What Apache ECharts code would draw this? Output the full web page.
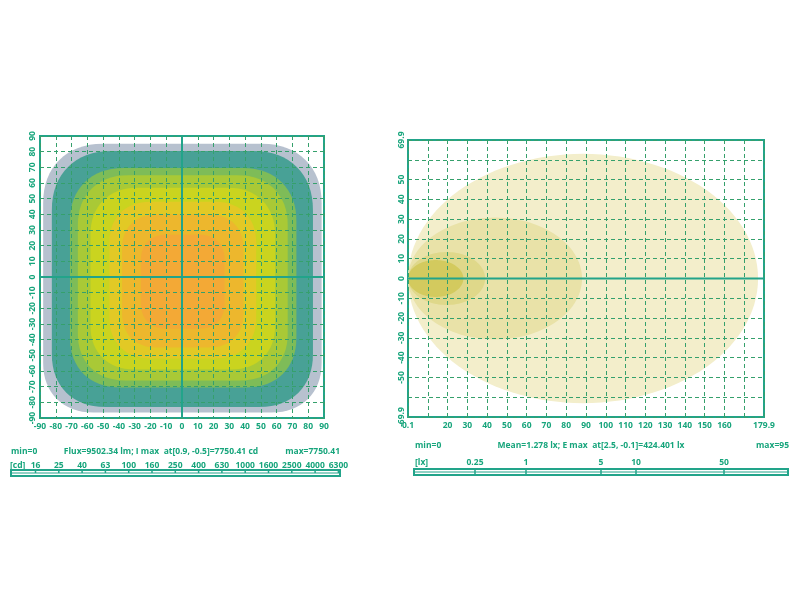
<!DOCTYPE html>
<html><head><meta charset="utf-8">
<script src="https://cdn.jsdelivr.net/npm/echarts@6/dist/echarts.min.js"></script>
<style>html,body{margin:0;padding:0;background:#fff}#c{width:800px;height:600px}</style>
</head><body><div id="c"></div>
<script>
// ---------- DATA ----------
// Left: luminous intensity iso-contours (degrees), outermost -> innermost
const contourLeft   = [-88,  -82.5, -71,  -66,  -58,  -46,  -38,  -26];
const contourRight  = [88.5,  83,    72.5, 67,   59,   47,   39,   27];
const contourBottom = [-86.5, -83,  -70.5, -66,  -59,  -52,  -45,  -33];
const contourTop    = [85,    80.5,  69.5, 65,   57,   48,   40,   27];
const contourRoundTop    = [38, 38, 34, 32, 30, 26, 22, 16];
const contourRoundBottom = [32, 34, 32, 30, 28, 26, 22, 16];
const contourColors = ['#b7c1cf','#48a196','#7ebc58','#a9c936','#cad41f','#e2c925','#edb72d','#f3a936'];

// Right: illuminance iso-lines (approx. ellipses), outermost -> innermost
const isoCx = [88.5, 44, 19.5, 14];
const isoCy = [0, 0, 0, 0];
const isoRx = [88.5, 44, 19.5, 14];
const isoRy = [63, 30.8, 13.4, 9.3];
const isoColors = ['#f3eecb','#e9e2a8','#dfd88a','#d3ca5e'];

// Tick / scale labels
const rightXEndLabels = ['0.1', '179.9'];
const rightYEndLabels = ['-69.9', '69.9'];
const cdUnit = '[cd]';
const cdScaleLabels = ['16','25','40','63','100','160','250','400','630','1000','1600','2500','4000','6300'];
const lxUnit = '[lx]';
const lxScaleLabels = ['0.25','1','5','10','50'];
const leftInfo  = ['min=0', 'Flux=9502.34 lm; I max  at[0.9, -0.5]=7750.41 cd', 'max=7750.41'];
const rightInfo = ['min=0', 'Mean=1.278 lx; E max  at[2.5, -0.1]=424.401 lx', 'max=95'];

// ---------- LAYOUT / STYLE ----------
const AX = '#22a48a', GRIDC = '#35a06c', TXT = '#17a57c';
const FONT = '"Open Sans", sans-serif';
const FS = 8.5;
const lblStyle = {color: TXT, fontSize: FS, fontWeight: 'bold', fontFamily: FONT};
const lxScalePos = [475, 526, 601, 636, 724]; // layout positions of lx scale dividers (px)

function sgnPow(v, p){ return (v < 0 ? -1 : 1) * Math.pow(Math.abs(v), p); }
function corner(pts, cx, cy, rx, ry, a0){
  const n = 2.2;
  for (let i = 0; i <= 16; i++){
    const t = (a0 + i * 90 / 16) * Math.PI / 180;
    pts.push([cx + rx * sgnPow(Math.cos(t), 2/n), cy + ry * sgnPow(Math.sin(t), 2/n)]);
  }
}

const chart = echarts.init(document.getElementById('c'));

const contourData = contourLeft.map((v, i) => [v, contourRight[i], contourBottom[i], contourTop[i], contourRoundTop[i], contourRoundBottom[i]]);
const isoData = isoCx.map((v, i) => [v, isoCy[i], isoRx[i], isoRy[i]]);

function splitLn(){ return {show: true, lineStyle: {color: GRIDC, width: 1, type: [4, 3]}}; }

const graphics = [];
function txt(x, y, s, align){
  graphics.push({type: 'text', x: x, y: y, silent: true, z: 10,
    style: {text: s, fill: TXT, fontSize: FS, fontWeight: 'bold', fontFamily: FONT, align: align, verticalAlign: 'middle'}});
}
function ln(x1, y1, x2, y2, w){
  graphics.push({type: 'line', silent: true, z: 10, shape: {x1, y1, x2, y2}, style: {stroke: AX, lineWidth: w}});
}
// left info
txt(11, 452, leftInfo[0], 'left');
txt(161, 452, leftInfo[1], 'center');
txt(340, 452, leftInfo[2], 'right');
txt(10, 466, cdUnit, 'left');
cdScaleLabels.forEach((s, i) => {
  const x = 35.5 + i * 23.3;
  txt(x, 466, s, 'center');
  ln(x, 470, x, 473, 1.5);
});
graphics.push({type: 'rect', silent: true, z: 10, shape: {x: 11, y: 470, width: 329, height: 6}, style: {fill: 'none', stroke: AX, lineWidth: 2}});
ln(11, 473, 340, 473, 1);
// right info
txt(415, 446, rightInfo[0], 'left');
txt(591, 446, rightInfo[1], 'center');
txt(789, 446, rightInfo[2], 'right');
txt(415, 463, lxUnit, 'left');
lxScaleLabels.forEach((s, i) => {
  const x = lxScalePos[i];
  txt(x, 463, s, 'center');
  ln(x, 469, x, 475, 1.5);
});
graphics.push({type: 'rect', silent: true, z: 10, shape: {x: 414, y: 469, width: 374, height: 6}, style: {fill: 'none', stroke: AX, lineWidth: 2}});
ln(414, 472, 788, 472, 1);

const option = {
  backgroundColor: '#ffffff',
  animation: false,
  grid: [
    {left: 40, top: 136, width: 284, height: 282, show: true, borderColor: AX, borderWidth: 2, backgroundColor: 'transparent'},
    {left: 408, top: 140, width: 356, height: 277, show: true, borderColor: AX, borderWidth: 2, backgroundColor: 'transparent'}
  ],
  xAxis: [
    {type: 'value', gridIndex: 0, min: -90, max: 90, interval: 10, z: 3,
     axisLine: {show: false}, axisTick: {show: false}, splitLine: splitLn(),
     axisLabel: Object.assign({margin: 4}, lblStyle)},
    {type: 'value', gridIndex: 1, min: 0, max: 180, interval: 10, z: 3,
     axisLine: {show: false}, axisTick: {show: false}, splitLine: splitLn(),
     axisLabel: Object.assign({margin: 4, formatter: v => v === 0 ? rightXEndLabels[0] : v === 180 ? rightXEndLabels[1] : (v === 10 || v === 170 ? '' : String(v))}, lblStyle)}
  ],
  yAxis: [
    {type: 'value', gridIndex: 0, min: -90, max: 90, interval: 10, z: 3,
     axisLine: {show: false}, axisTick: {show: false}, splitLine: splitLn(),
     axisLabel: Object.assign({margin: 3, rotate: 90}, lblStyle)},
    {type: 'value', gridIndex: 1, min: -70, max: 70, interval: 10, z: 3,
     axisLine: {show: false}, axisTick: {show: false}, splitLine: splitLn(),
     axisLabel: Object.assign({margin: 2, rotate: 90, formatter: v => v === -70 ? rightYEndLabels[0] : v === 70 ? rightYEndLabels[1] : (Math.abs(v) === 60 ? '' : String(v))}, lblStyle)}
  ],
  series: [
    {type: 'custom', xAxisIndex: 0, yAxisIndex: 0, silent: true, clip: true, z: 1,
     encode: {x: [0, 1], y: [2, 3]},
     data: contourData,
     renderItem: function(params, api){
       const tl = api.coord([api.value(0), api.value(3)]);
       const br = api.coord([api.value(1), api.value(2)]);
       const rt = api.size([api.value(4), api.value(4)]);
       const rb = api.size([api.value(5), api.value(5)]);
       const L = tl[0], T = tl[1], R = br[0], B = br[1];
       const pts = [];
       corner(pts, R - rt[0], T + rt[1], rt[0], rt[1], -90);
       corner(pts, R - rb[0], B - rb[1], rb[0], rb[1], 0);
       corner(pts, L + rb[0], B - rb[1], rb[0], rb[1], 90);
       corner(pts, L + rt[0], T + rt[1], rt[0], rt[1], 180);
       return {type: 'polygon', shape: {points: pts}, style: {fill: contourColors[params.dataIndex]}};
     }},
    {type: 'custom', xAxisIndex: 1, yAxisIndex: 1, silent: true, clip: true, z: 1,
     encode: {x: 0, y: 1},
     data: isoData,
     renderItem: function(params, api){
       const c = api.coord([api.value(0), api.value(1)]);
       const s = api.size([api.value(2), api.value(3)]);
       const pts = [];
       for (let i = 0; i < 120; i++){
         const t = i / 120 * Math.PI * 2;
         pts.push([c[0] + s[0] * Math.cos(t), c[1] + s[1] * Math.sin(t)]);
       }
       return {type: 'polygon', shape: {points: pts}, style: {fill: isoColors[params.dataIndex]}};
     }},
    {type: 'line', xAxisIndex: 0, yAxisIndex: 0, silent: true, symbol: 'none', z: 5,
     lineStyle: {color: AX, width: 2}, data: [[0, -90], [0, 90]]},
    {type: 'line', xAxisIndex: 0, yAxisIndex: 0, silent: true, symbol: 'none', z: 5,
     lineStyle: {color: AX, width: 2}, data: [[-90, 0], [90, 0]]},
    {type: 'line', xAxisIndex: 1, yAxisIndex: 1, silent: true, symbol: 'none', z: 5,
     lineStyle: {color: AX, width: 2}, data: [[0, 0], [180, 0]]}
  ],
  graphic: graphics
};
chart.setOption(option);
</script></body></html>
